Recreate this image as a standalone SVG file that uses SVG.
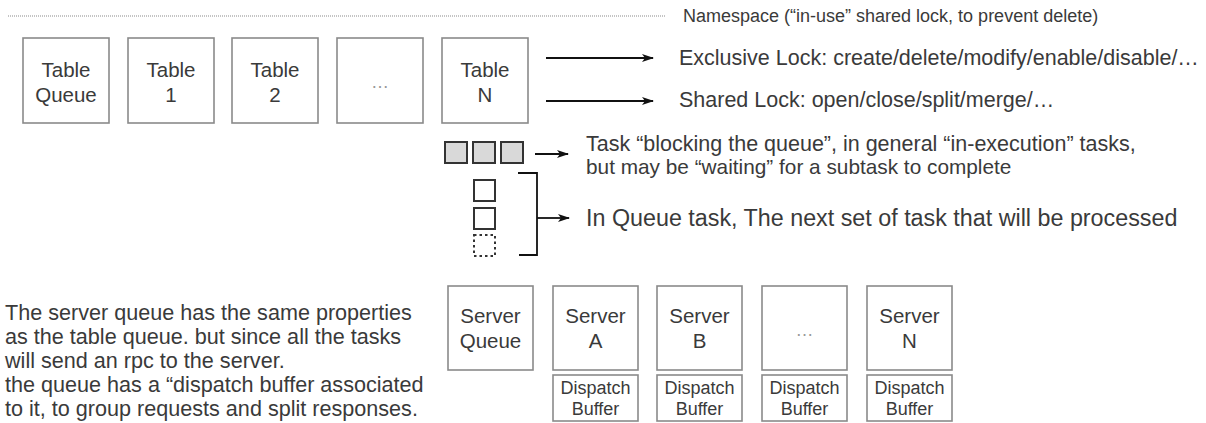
<svg xmlns="http://www.w3.org/2000/svg" width="1206" height="423" viewBox="0 0 1206 423">
<defs>
<style>
.box{fill:#fff;stroke:#8a8a8a;stroke-width:1.6}
.t{font-family:"Liberation Sans",Arial,sans-serif;font-size:21.5px;fill:#3a3a3a}
.lbl{font-size:20.5px}
.c{text-anchor:middle}
.ns{font-size:18px}
.db{font-size:18px}
.dots{fill:#999;font-size:18px}
.task{fill:#d9d9d9;stroke:#333;stroke-width:2}
.q{fill:#fff;stroke:#333;stroke-width:2}
.qd{fill:#fff;stroke:#333;stroke-width:2;stroke-dasharray:2.5,3}
.ar{fill:none;stroke:#111;stroke-width:1.8}
.p{font-size:21.6px}
.bm{font-size:20.8px}
.iq{font-size:23.3px}
</style>
<marker id="ah" markerWidth="12" markerHeight="8" refX="11" refY="4" orient="auto" markerUnits="userSpaceOnUse">
<path d="M0,0 L12,4 L0,8 L3,4 Z" fill="#111"/>
</marker>
</defs>
<rect width="1206" height="423" fill="#fff"/>

<g id="namespace">
<line x1="8" y1="16" x2="666" y2="16" stroke="#8a8a8a" stroke-width="1.2" stroke-dasharray="1,1"/>
<text class="t ns" x="683" y="22">Namespace (“in-use” shared lock, to prevent delete)</text>
</g>

<g id="table-queue"><rect class="box" x="23" y="38" width="86" height="85"/><text class="t lbl c" x="66" y="77">Table</text><text class="t lbl c" x="66" y="102">Queue</text></g>
<g id="table-1"><rect class="box" x="128" y="38" width="86" height="85"/><text class="t lbl c" x="171" y="77">Table</text><text class="t lbl c" x="171" y="102">1</text></g>
<g id="table-2"><rect class="box" x="232" y="38" width="86" height="85"/><text class="t lbl c" x="275" y="77">Table</text><text class="t lbl c" x="275" y="102">2</text></g>
<g id="table-dots"><rect class="box" x="337" y="38" width="86" height="85"/><text class="t c dots" x="380" y="88">…</text></g>
<g id="table-n"><rect class="box" x="442" y="38" width="86" height="85"/><text class="t lbl c" x="485" y="77">Table</text><text class="t lbl c" x="485" y="102">N</text></g>

<g id="exclusive-lock"><text class="t" x="679" y="65">Exclusive Lock: create/delete/modify/enable/disable/…</text></g>
<g id="shared-lock"><text class="t" x="679" y="107">Shared Lock: open/close/split/merge/…</text></g>

<g id="blocking-tasks">
<rect class="task" x="445" y="142" width="22" height="21"/>
<rect class="task" x="473" y="142" width="22" height="21"/>
<rect class="task" x="501" y="142" width="22" height="21"/>
<text class="t" x="586" y="151">Task “blocking the queue”, in general “in-execution” tasks,</text>
<text class="t bm" x="586" y="174">but may be “waiting” for a subtask to complete</text>
</g>

<g id="queued-tasks">
<rect class="q" x="474" y="180" width="21" height="21"/>
<rect class="q" x="474" y="208" width="21" height="21"/>
<rect class="qd" x="474" y="235" width="21" height="21"/>
<text class="t iq" x="586" y="226">In Queue task, The next set of task that will be processed</text>
</g>

<g id="connectors">
<line class="ar" x1="546" y1="58" x2="653" y2="58" marker-end="url(#ah)"/>
<line class="ar" x1="546" y1="101" x2="653" y2="101" marker-end="url(#ah)"/>
<line class="ar" x1="535" y1="154" x2="568" y2="154" marker-end="url(#ah)"/>
<path class="ar" d="M518,173 H537 V255 H519"/>
<line class="ar" x1="537" y1="218" x2="569" y2="218" marker-end="url(#ah)"/>
</g>

<g id="description">
<text class="t p" x="5" y="320">The server queue has the same properties</text>
<text class="t p" x="5" y="344">as the table queue. but since all the tasks</text>
<text class="t p" x="5" y="368">will send an rpc to the server.</text>
<text class="t p" x="5" y="392">the queue has a “dispatch buffer associated</text>
<text class="t p" x="5" y="416">to it, to group requests and split responses.</text>
</g>

<g id="server-queue"><rect class="box" x="448" y="286" width="85" height="84"/><text class="t lbl c" x="490.5" y="323">Server</text><text class="t lbl c" x="490.5" y="348">Queue</text></g>
<g id="server-a"><rect class="box" x="553" y="286" width="85" height="84"/><text class="t lbl c" x="595.5" y="323">Server</text><text class="t lbl c" x="595.5" y="348">A</text>
<rect class="box" x="553" y="375" width="85" height="46"/><text class="t c db" x="595.5" y="394">Dispatch</text><text class="t c db" x="595.5" y="415">Buffer</text></g>
<g id="server-b"><rect class="box" x="657" y="286" width="85" height="84"/><text class="t lbl c" x="699.5" y="323">Server</text><text class="t lbl c" x="699.5" y="348">B</text>
<rect class="box" x="657" y="375" width="85" height="46"/><text class="t c db" x="699.5" y="394">Dispatch</text><text class="t c db" x="699.5" y="415">Buffer</text></g>
<g id="server-dots"><rect class="box" x="762" y="286" width="85" height="84"/><text class="t c dots" x="804.5" y="336">…</text>
<rect class="box" x="762" y="375" width="85" height="46"/><text class="t c db" x="804.5" y="394">Dispatch</text><text class="t c db" x="804.5" y="415">Buffer</text></g>
<g id="server-n"><rect class="box" x="867" y="286" width="85" height="84"/><text class="t lbl c" x="909.5" y="323">Server</text><text class="t lbl c" x="909.5" y="348">N</text>
<rect class="box" x="867" y="375" width="85" height="46"/><text class="t c db" x="909.5" y="394">Dispatch</text><text class="t c db" x="909.5" y="415">Buffer</text></g>
</svg>
